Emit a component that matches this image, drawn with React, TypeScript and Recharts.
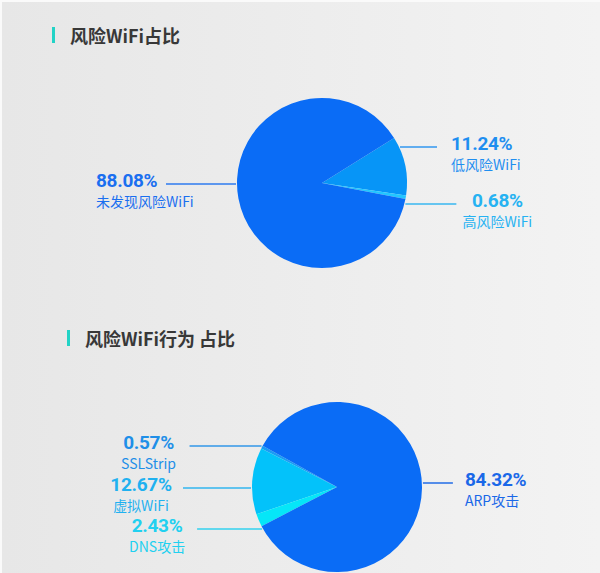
import React from 'react';
import { PieChart, Pie, Cell } from 'recharts';

const riskCategories = ['低风险WiFi', '高风险WiFi', '未发现风险WiFi'];
const riskValues = [11.24, 0.68, 88.08];
const riskColors = ['#0795f7', '#22c6ff', '#0a6cf6'];
const riskTextColors = ['#1e8ef0', '#26b2f2', '#1a6ff0'];

const behaviorCategories = ['SSLStrip', '虚拟WiFi', 'DNS攻击', 'ARP攻击'];
const behaviorValues = [0.57, 12.67, 2.43, 84.32];
const behaviorColors = ['#1a9cf5', '#03c2fa', '#05e6f8', '#0a6cf6'];
const behaviorTextColors = ['#1f8fe8', '#1fb1f0', '#21d0f0', '#1a68e8'];

const titles = ['风险WiFi占比', '风险WiFi行为 占比'];

const riskData = riskCategories.map((name, i) => ({ name, value: riskValues[i] }));
const behaviorData = behaviorCategories.map((name, i) => ({ name, value: behaviorValues[i] }));

// label layout: dy = line offset from center, side, line length, text offset from line end, anchor
type LabelLayout = { dy: number; side: 1 | -1; len: number; tx: number; anchor: 'start' | 'middle' | 'end' };

const riskLayout: LabelLayout[] = [
  { dy: -36, side: 1, len: 37, tx: 14, anchor: 'start' },
  { dy: 21, side: 1, len: 51, tx: 41, anchor: 'middle' },
  { dy: 1, side: -1, len: 70, tx: -70, anchor: 'start' },
];

const behaviorLayout: LabelLayout[] = [
  { dy: -41, side: -1, len: 72, tx: -41, anchor: 'middle' },
  { dy: 1, side: -1, len: 68, tx: -42, anchor: 'middle' },
  { dy: 42, side: -1, len: 65, tx: -40, anchor: 'middle' },
  { dy: -4, side: 1, len: 30, tx: 12, anchor: 'start' },
];

const makeLabel = (layout: LabelLayout[], textColors: string[]) => (props: any) => {
  const { cx, cy, outerRadius, index, name, value } = props;
  const l = layout[index];
  const y = cy + l.dy;
  const half = Math.sqrt(Math.max(outerRadius * outerRadius - l.dy * l.dy, 0));
  const x0 = cx + l.side * (half + 1);
  const x1 = x0 + l.side * l.len;
  const tx = x1 + l.tx;
  const color = textColors[index];
  return (
    <g key={`lbl-${index}`}>
      <line x1={x0} y1={y} x2={x1} y2={y} stroke={color} strokeWidth={1.6} opacity={0.9} />
      <text
        x={tx}
        y={y + 3}
        textAnchor={l.anchor}
        fill={color}
        style={{ fontFamily: 'Roboto, sans-serif', fontWeight: 700, fontSize: 19, letterSpacing: -0.3 }}
      >
        {`${Number(value).toFixed(2)}%`}
      </text>
      <text
        x={tx}
        y={y + 23}
        textAnchor={l.anchor}
        fill={color}
        style={{ fontFamily: '"Noto Sans CJK SC", "Noto Sans", sans-serif', fontWeight: 400, fontSize: 14 }}
      >
        {name}
      </text>
    </g>
  );
};

const Title = ({ text, top, left }: { text: string; top: number; left: number }) => (
  <div style={{ position: 'absolute', top, left, display: 'flex', alignItems: 'center' }}>
    <div style={{ width: 3, height: 16, background: '#22d3c6', marginRight: 15 }} />
    <div
      style={{
        fontFamily: '"Noto Sans CJK SC", sans-serif',
        fontWeight: 700,
        fontSize: 18,
        color: '#383838',
        lineHeight: '20px',
        whiteSpace: 'pre',
      }}
    >
      {text}
    </div>
  </div>
);

export default function App() {
  return (
    <div
      style={{
        position: 'absolute',
        top: 0,
        left: 0,
        width: 600,
        height: 573,
        background: '#fafafa',
        overflow: 'hidden',
      }}
    >
      <div
        style={{
          position: 'absolute',
          top: 2,
          left: 2,
          right: 0,
          bottom: 0,
          background: 'linear-gradient(90deg, #e7e7e7 0%, #ececec 45%, #f3f3f3 100%)',
        }}
      />
      <Title text={titles[0]} top={25} left={52} />
      <Title text={titles[1]} top={328} left={67} />
      <div style={{ position: 'absolute', top: 0, left: 0 }}>
        <PieChart width={600} height={573} margin={{ top: 0, right: 0, bottom: 0, left: 0 }}>
          <Pie
            data={riskData}
            dataKey="value"
            nameKey="name"
            cx={322}
            cy={183}
            outerRadius={85}
            startAngle={32}
            endAngle={-328}
            stroke="none"
            isAnimationActive={false}
            labelLine={false}
            label={makeLabel(riskLayout, riskTextColors)}
          >
            {riskData.map((d, i) => (
              <Cell key={d.name} fill={riskColors[i]} />
            ))}
          </Pie>
          <Pie
            data={behaviorData}
            dataKey="value"
            nameKey="name"
            cx={337}
            cy={487}
            outerRadius={85}
            startAngle={151}
            endAngle={511}
            stroke="none"
            isAnimationActive={false}
            labelLine={false}
            label={makeLabel(behaviorLayout, behaviorTextColors)}
          >
            {behaviorData.map((d, i) => (
              <Cell key={d.name} fill={behaviorColors[i]} />
            ))}
          </Pie>
        </PieChart>
      </div>
    </div>
  );
}
